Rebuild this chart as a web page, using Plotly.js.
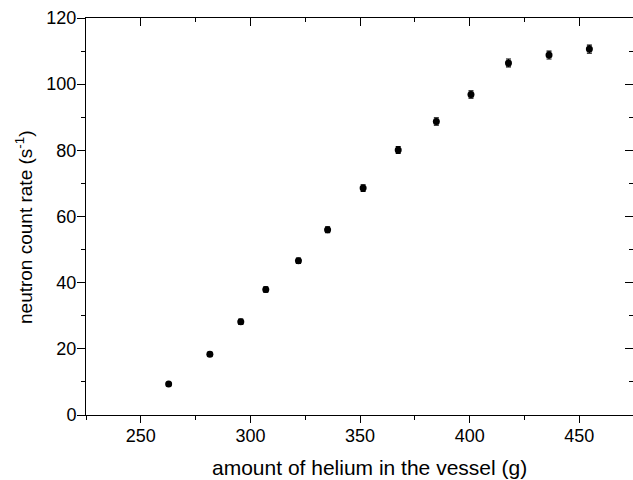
<!DOCTYPE html>
<html><head><meta charset="utf-8">
<script src="https://cdn.plot.ly/plotly-3.0.1.min.js"></script>
<style>body{margin:0;background:#fff}#c{width:633px;height:480px}</style>
</head><body><div id="c"></div>
<script>
const heliumMass = [262.7, 281.5, 295.6, 307.0, 321.9, 335.2, 351.4, 367.4, 384.8, 400.6, 417.7, 436.2, 454.6];
const countRate  = [9.4, 18.4, 28.2, 37.9, 46.6, 56.0, 68.6, 80.1, 88.7, 96.9, 106.4, 108.8, 110.6];
const countErr   = [0.5, 0.6, 0.8, 0.8, 0.8, 0.9, 1.0, 1.0, 1.1, 1.1, 1.2, 1.2, 1.2];
const xTickVals = [250, 300, 350, 400, 450];
const yTickVals = [0, 20, 40, 60, 80, 100, 120];
const xTitle = 'amount of helium in the vessel (g)';
const yTitle = 'neutron count rate (s<sup>-1</sup>)';

const xr = [225, 474.5], yr = [0, 120];
const font = {family: 'Liberation Sans, Arial, sans-serif', color: '#000'};

const trace = {
  x: heliumMass, y: countRate, type: 'scatter', mode: 'markers',
  marker: {color: '#000', size: 7, symbol: 'circle'},
  error_y: {type: 'data', array: countErr, visible: true, color: '#000', thickness: 1.2, width: 2.5},
  showlegend: false
};

const layout = {
  width: 633, height: 480,
  margin: {l: 86, r: 0, t: 18, b: 65},
  paper_bgcolor: '#fff', plot_bgcolor: '#fff',
  font: Object.assign({size: 18}, font),
  xaxis: {
    range: xr, tickvals: xTickVals, ticks: 'outside', ticklen: 7, tickwidth: 1, tickcolor: '#000',
    minor: {dtick: 25, tick0: 0, ticks: 'outside', ticklen: 4, tickcolor: '#000'},
    showline: true, linecolor: '#000', linewidth: 1, showgrid: false, zeroline: false,
    tickfont: Object.assign({size: 18}, font), ticklabelstandoff: -3
  },
  yaxis: {
    range: yr, tickvals: yTickVals, ticks: 'outside', ticklen: 8, tickwidth: 1, tickcolor: '#000',
    minor: {dtick: 10, tick0: 0, ticks: 'outside', ticklen: 4, tickcolor: '#000'},
    showline: true, linecolor: '#000', linewidth: 1, showgrid: false, zeroline: false,
    tickfont: Object.assign({size: 18}, font), ticklabelstandoff: -3
  },
  xaxis2: {
    overlaying: 'x', side: 'top', range: xr, tickvals: xTickVals, ticks: 'inside', ticklen: 8, tickcolor: '#000',
    minor: {dtick: 25, tick0: 0, ticks: 'inside', ticklen: 4, tickcolor: '#000'},
    showticklabels: false, showline: true, linecolor: '#000', linewidth: 1, showgrid: false, zeroline: false
  },
  yaxis2: {
    overlaying: 'y', side: 'right', range: yr, tickvals: yTickVals, ticks: 'inside', ticklen: 8, tickcolor: '#000',
    minor: {dtick: 10, tick0: 0, ticks: 'inside', ticklen: 4, tickcolor: '#000'},
    showticklabels: false, showline: true, linecolor: '#000', linewidth: 1, showgrid: false, zeroline: false
  },
  annotations: [
    {text: xTitle, xref: 'paper', yref: 'paper', x: (370 - 86) / 547, y: (415 - 467) / 397,
     xanchor: 'center', yanchor: 'middle', showarrow: false, font: Object.assign({size: 21}, font)},
    {text: yTitle, xref: 'paper', yref: 'paper', x: (24 - 86) / 547, y: (415 - 228) / 397,
     xanchor: 'center', yanchor: 'middle', showarrow: false, textangle: -90, font: Object.assign({size: 19}, font)}
  ]
};

const dummy = {x: [], y: [], xaxis: 'x2', yaxis: 'y2', type: 'scatter', showlegend: false, hoverinfo: 'skip'};

Plotly.newPlot('c', [trace, dummy], layout, {displayModeBar: false, staticPlot: true});
</script>
</body></html>
